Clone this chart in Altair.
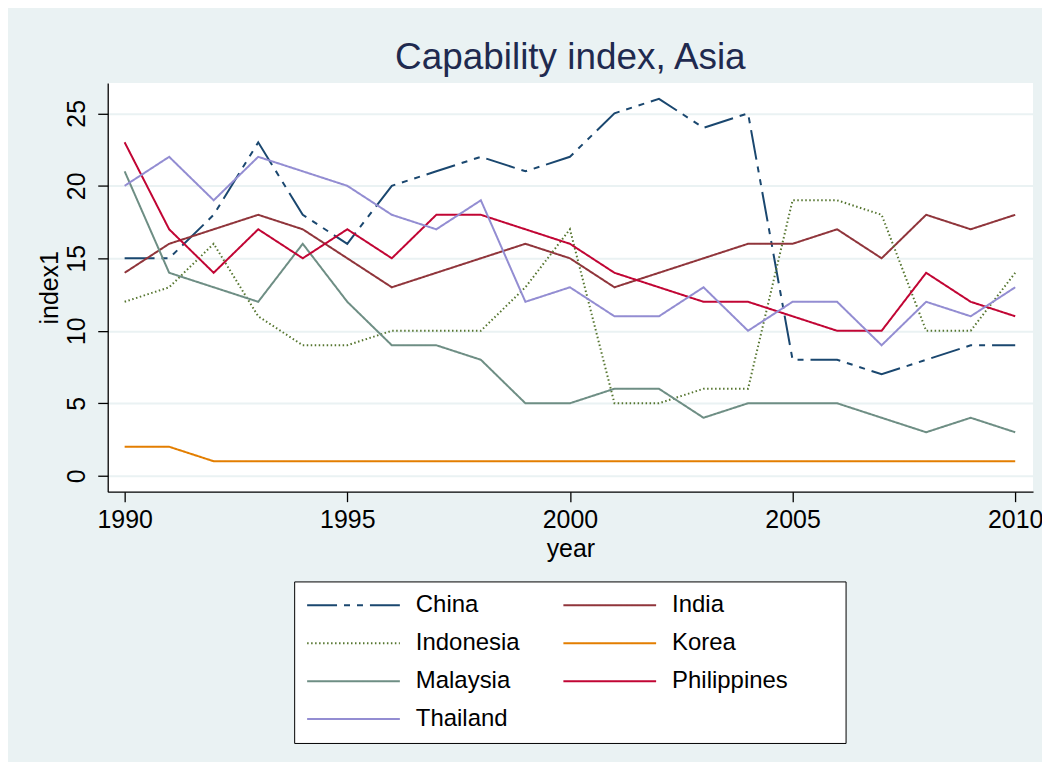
import altair as alt
import pandas as pd

years = list(range(1990, 2011))
countries = ["China", "India", "Indonesia", "Korea", "Malaysia", "Philippines", "Thailand"]
china = [15, 15, 18, 23, 18, 16, 20, 21, 22, 21, 22, 25, 26, 24, 25, 8, 8, 7, 8, 9, 9]
india = [14, 16, 17, 18, 17, 15, 13, 14, 15, 16, 15, 13, 14, 15, 16, 16, 17, 15, 18, 17, 18]
indonesia = [12, 13, 16, 11, 9, 9, 10, 10, 10, 13, 17, 5, 5, 6, 6, 19, 19, 18, 10, 10, 14]
korea = [2, 2, 1, 1, 1, 1, 1, 1, 1, 1, 1, 1, 1, 1, 1, 1, 1, 1, 1, 1, 1]
malaysia = [21, 14, 13, 12, 16, 12, 9, 9, 8, 5, 5, 6, 6, 4, 5, 5, 5, 4, 3, 4, 3]
philippines = [23, 17, 14, 17, 15, 17, 15, 18, 18, 17, 16, 14, 13, 12, 12, 11, 10, 10, 14, 12, 11]
thailand = [20, 22, 19, 22, 21, 20, 18, 17, 19, 12, 13, 11, 11, 13, 10, 12, 12, 9, 12, 11, 13]

x_ticks = [1990, 1995, 2000, 2005, 2010]
y_ticks = [0, 5, 10, 15, 20, 25]

series = [china, india, indonesia, korea, malaysia, philippines, thailand]
colors = ["#1A476F", "#90353B", "#55752F", "#E37E00", "#6E8E84", "#C10534", "#938DD2"]
dashes = [[30, 7, 6, 7, 6, 7], [1, 0], [1.5, 2.5], [1, 0], [1, 0], [1, 0], [1, 0]]

rows = []
for ci, (c, vals) in enumerate(zip(countries, series)):
    for y, v in zip(years, vals):
        rows.append({"country": c, "year": y, "index1": v, "ord": ci})
df = pd.DataFrame(rows)

FONT = "Liberation Sans"

legend = alt.Legend(
    title="\u00a0",
    titleOrient="right",
    titleFontSize=24,
    titlePadding=46,
    orient="none",
    direction="horizontal",
    legendX=187,
    legendY=500,
    columns=2,
    labelFontSize=24,
    labelFont=FONT,
    labelColor="black",
    symbolType="stroke",
    symbolSize=8649,
    symbolStrokeWidth=2,
    clipHeight=24,
    rowPadding=14,
    columnPadding=42,
    labelOffset=15,
    padding=12,
    strokeColor="black",
    fillColor="white",
)

chart = alt.Chart(df).mark_line(strokeWidth=2).encode(
    x=alt.X(
        "year:Q",
        scale=alt.Scale(domain=[1989.62, 2010.4], nice=False, zero=False),
        axis=alt.Axis(values=x_ticks, format="d", title="year", grid=False,
                      labelPadding=6, titlePadding=4),
    ),
    y=alt.Y(
        "index1:Q",
        scale=alt.Scale(domain=[-1.1, 27.1], nice=False, zero=False),
        axis=alt.Axis(values=y_ticks, title="index1", grid=True, labelAngle=270,
                      labelAlign="center", labelBaseline="bottom", labelPadding=8,
                      titlePadding=2),
    ),
    color=alt.Color("country:N", scale=alt.Scale(domain=countries, range=colors), legend=legend),
    strokeDash=alt.StrokeDash("country:N", scale=alt.Scale(domain=countries, range=dashes), legend=legend),
    order=alt.Order("ord:Q"),
).properties(
    width=928,
    height=410,
    autosize="none",
    padding={"left": 100, "top": 74, "right": 9, "bottom": 270},
    title=alt.TitleParams(
        "Capability index, Asia",
        fontSize=37,
        font=FONT,
        fontWeight="normal",
        color="#1F2A4F",
        anchor="middle",
        offset=6,
    ),
).configure(
    background="#EAF2F3",
).configure_view(
    fill="white",
    strokeWidth=0,
).configure_axis(
    labelFont=FONT,
    labelFontSize=25,
    labelColor="black",
    titleFont=FONT,
    titleFontSize=25,
    titleFontWeight="normal",
    titleColor="black",
    domainColor="black",
    domainWidth=1.3,
    tickColor="black",
    tickWidth=1.3,
    tickSize=10,
    gridColor="#EAF2F3",
    gridWidth=2,
)

chart.save("out.html", embed_options={"renderer": "svg", "actions": False})
